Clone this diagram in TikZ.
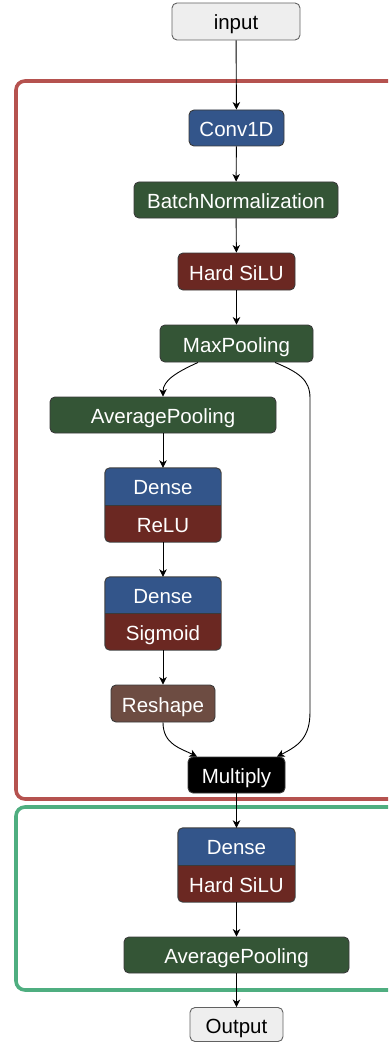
\documentclass[tikz,border=0pt]{standalone}
\usepackage{fontspec}
\setmainfont{Liberation Sans}
\usetikzlibrary{arrows.meta,backgrounds,calc}
\definecolor{cblue}{HTML}{33558A}
\definecolor{cgreen}{HTML}{345536}
\definecolor{cred}{HTML}{6B2822}
\definecolor{cbrown}{HTML}{6D4C42}
\definecolor{cgray}{HTML}{EEEEEE}
\definecolor{cborder}{HTML}{3A3A3A}
\definecolor{fred}{HTML}{B5524F}
\definecolor{fgreen}{HTML}{4FAE80}
\begin{document}
\begin{tikzpicture}[x=1pt,y=-1pt,
  lbl/.style={font=\fontsize{20.5}{21}\selectfont, text height=17pt, text depth=0pt, inner sep=0pt},
  layerbox/.style={lbl, draw=cborder, line width=0.9pt, rounded corners=5pt, text=white, minimum height=36pt},
  bluebox/.style={layerbox, fill=cblue},
  greenbox/.style={layerbox, fill=cgreen},
  redbox/.style={layerbox, fill=cred},
  brownbox/.style={layerbox, fill=cbrown},
  blackbox/.style={layerbox, fill=black},
  iobox/.style={layerbox, fill=cgray, text=black, draw=cborder!80},
  dualbox/.style={inner sep=0pt, minimum height=74pt},
  wtext/.style={lbl, text=white},
  conn/.style={draw=black, line width=0.9pt, -{Stealth[length=7.5pt,width=7.5pt,inset=2.2pt]}},
  frame/.style={line width=3.6pt, rounded corners=9pt}
]
\useasboundingbox (0,0) rectangle (388,1043);

% single nodes
\node[iobox, minimum width=128pt, minimum height=37pt] (in) at (236,21.5) {input};
\node[bluebox, minimum width=95pt] (conv) at (236.5,128) {Conv1D};
\node[greenbox, minimum width=204pt] (bn) at (236,200) {BatchNormalization};
\node[redbox, minimum width=117pt, minimum height=37pt] (hs) at (236.5,271.5) {Hard SiLU};
\node[greenbox, minimum width=153pt, minimum height=37pt] (mp) at (236.5,343.5) {MaxPooling};
\node[greenbox, minimum width=226pt] (ap) at (163,415) {AveragePooling};

% dual nodes
\newcommand{\dualnode}[4]{%
  \begin{scope}
    \clip[rounded corners=5pt] (#1.north west) rectangle (#1.south east);
    \fill[cblue] (#1.north west) rectangle (#1.east);
    \fill[cred] (#1.west) rectangle (#1.south east);
  \end{scope}
  \draw[cborder, line width=0.6pt] (#1.west) -- (#1.east);
  \draw[cborder, line width=0.9pt, rounded corners=5pt] (#1.north west) rectangle (#1.south east);
  \node[wtext] (#1-top) at ($(#1.center)!0.5!(#1.north)$) {#2};
  \node[wtext] (#1-bot) at ($(#1.center)!0.5!(#1.south)$) {#3};
}
\node[dualbox, minimum width=116pt] (d1) at (163,505) {};
\dualnode{d1}{Dense}{ReLU}{}
\node[dualbox, minimum width=116pt, minimum height=73pt] (d2) at (163,613.5) {};
\dualnode{d2}{Dense}{Sigmoid}{}

\node[brownbox, minimum width=104pt, minimum height=37pt] (rs) at (163,703.5) {Reshape};
\node[blackbox, minimum width=97pt] (mul) at (236.5,775) {Multiply};

\node[dualbox, minimum width=117pt] (d3) at (236.5,865) {};
\dualnode{d3}{Dense}{Hard SiLU}{}
\node[greenbox, minimum width=225pt] (ap2) at (236.5,955) {AveragePooling};
\node[iobox, minimum width=93pt, minimum height=34pt] (out) at (236.5,1024.5) {Output};

% frames
\begin{scope}[on background layer]
  \clip (0,0) rectangle (388,1043);
  \draw[frame, draw=fred] (16,81) rectangle (430,799);
  \draw[frame, draw=fgreen] (16,807) rectangle (430,990);
\end{scope}

% connectors
\draw[conn] (in) -- (conv);
\draw[conn] (conv) -- (bn);
\draw[conn] (bn) -- (hs);
\draw[conn] (hs) -- (mp);
\coordinate (mpL) at ([xshift=-38.5pt]mp.south);
\coordinate (mpR) at ([xshift=38.5pt]mp.south);
\draw[conn] (mpL) .. controls +(-22,10) and +(0,-16) .. (ap.north);
\coordinate (mulL) at ([xshift=-39.5pt]mul.north);
\coordinate (mulR) at ([xshift=40.5pt]mul.north);
\draw[conn] (mpR) .. controls +(24,10) and +(0,-18) .. (310,398) -- (310,712)
  .. controls (310,738) and (298,746) .. (mulR);
\draw[conn] (ap) -- (d1);
\draw[conn] (d1) -- (d2);
\draw[conn] (d2) -- (rs);
\draw[conn] (rs.south) .. controls +(0,22) and +(-16,-8) .. (mulL);
\draw[conn] (mul) -- (d3);
\draw[conn] (d3) -- (ap2);
\draw[conn] (ap2) -- (out);
\end{tikzpicture}
\end{document}
